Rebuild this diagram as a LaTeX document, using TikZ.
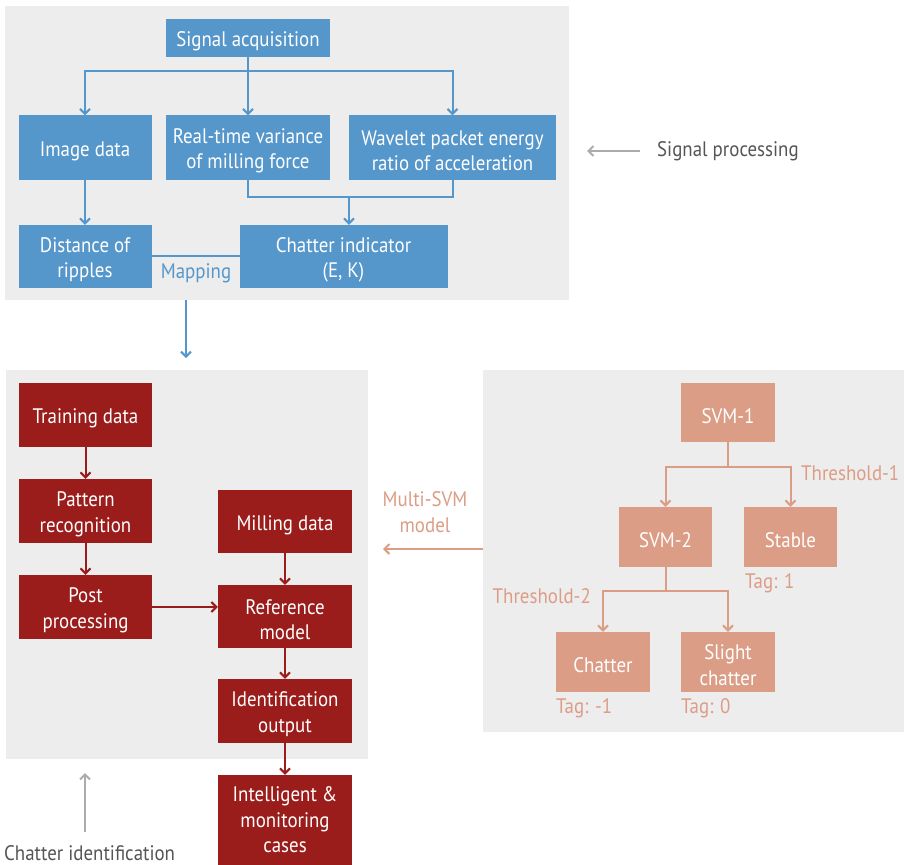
\documentclass[tikz,border=0pt]{standalone}
\usepackage{fontspec}
\setmainfont{PT Sans}[FakeStretch=0.9]
\usetikzlibrary{arrows.meta}
\definecolor{procblue}{HTML}{5596CB}
\definecolor{identred}{HTML}{9A1D1B}
\definecolor{svmsalmon}{HTML}{DC9D86}
\definecolor{panelgray}{HTML}{EDEDED}
\definecolor{notegray}{HTML}{ABABAB}
\definecolor{notetext}{HTML}{555555}
% invisible strut on the first line so box texts sit a little lower
\newcommand{\boxlift}{\rule{0pt}{21.5pt}}
\tikzset{
  every node/.style={font=\fontsize{21}{25.5}\selectfont, inner sep=0pt},
  box/.style={rectangle, align=center, text=white},
  bluebox/.style={box, fill=procblue},
  redbox/.style={box, fill=identred},
  svmbox/.style={box, fill=svmsalmon},
  tip/.style={-{Straight Barb[length=5pt,width=10pt,line width=2pt]}},
  bline/.style={draw=procblue, line width=2pt},
  rline/.style={draw=identred, line width=2pt},
  sline/.style={draw=svmsalmon, line width=2pt},
  gline/.style={draw=notegray, line width=2pt},
  panel/.style={fill=panelgray},
}
\begin{document}
\begin{tikzpicture}[x=1pt, y=-1pt]
\useasboundingbox (0,0) rectangle (904,864);
\fill[white] (0,0) rectangle (904,864);

% ---------- signal processing ----------
\fill[panel] (5,6) rectangle (569,300);
\node[bluebox, minimum width=164pt, minimum height=38pt] (sig) at (248,38) {\boxlift Signal acquisition};
\node[bluebox, minimum width=133pt, minimum height=64pt] (img) at (85,147.5) {\boxlift Image data};
\node[bluebox, minimum width=164pt, minimum height=64pt] (rt) at (248,147.5) {\boxlift Real-time variance\\of milling force};
\node[bluebox, minimum width=207pt, minimum height=64pt] (wav) at (452.5,147.5) {\boxlift Wavelet packet energy\\ratio of acceleration};
\node[bluebox, minimum width=133pt, minimum height=63pt] (dist) at (85,256.5) {\boxlift Distance of\\ripples};
\node[bluebox, minimum width=208pt, minimum height=63pt] (chi) at (343.5,256.5) {\boxlift Chatter indicator\\(E, K)};

\coordinate (j1) at (248,71);
\coordinate (j2) at (349,197);
\draw[bline] (sig.south) -- (j1);
\draw[bline, tip] (j1) -- (rt.north);
\draw[bline, tip] (j1) -| (img.north);
\draw[bline, tip] (j1) -| (wav.north);
\draw[bline] (rt.south) |- (j2) -| (wav.south);
\draw[bline, tip] (j2) -- (j2 |- chi.north);
\draw[bline, tip] (img.south) -- (dist.north);
\coordinate (m1) at (151.5,256);
\coordinate (m2) at (239.5,256);
\draw[bline] (m1) -- (m2);
\node[text=procblue] (map) at (196,273) {Mapping};

\coordinate (d1) at (186,300);
\coordinate (d2) at (186,358);
\draw[bline, tip] (d1) -- (d2);

\coordinate (sp1) at (640,151);
\coordinate (sp2) at (587,151);
\draw[gline, tip] (sp1) -- (sp2);
\node[anchor=west, text=notetext] (spl) at (657,151) {Signal processing};

% ---------- chatter identification ----------
\fill[panel] (6,370) rectangle (368,759);
\node[redbox, minimum width=133pt, minimum height=64pt] (train) at (85.5,415) {\boxlift Training data};
\node[redbox, minimum width=133pt, minimum height=64pt] (pat) at (85.5,511) {\boxlift Pattern\\recognition};
\node[redbox, minimum width=133pt, minimum height=64pt] (post) at (85.5,607) {\boxlift Post\\processing};
\node[redbox, minimum width=134pt, minimum height=63pt] (mill) at (285,521.5) {\boxlift Milling data};
\node[redbox, minimum width=134pt, minimum height=63pt] (ref) at (285,616.5) {\boxlift Reference\\model};
\node[redbox, minimum width=134pt, minimum height=64pt] (ido) at (285,711) {\boxlift Identification\\output};
\node[redbox, minimum width=134pt, minimum height=90pt] (intel) at (285,820) {Intelligent \&\\monitoring\\cases};

\draw[rline, tip] (train.south) -- (pat.north);
\draw[rline, tip] (pat.south) -- (post.north);
\draw[rline, tip] (post.east) -- (post.east -| ref.west);
\draw[rline, tip] (mill.south) -- (ref.north);
\draw[rline, tip] (ref.south) -- (ido.north);
\draw[rline, tip] (ido.south) -- (intel.north);

\coordinate (ci1) at (85,832);
\coordinate (ci2) at (85,773);
\draw[gline, tip] (ci1) -- (ci2);
\node[anchor=base west, text=notetext, text depth=0pt] (cil) at (4,860) {Chatter identification};

% ---------- multi-SVM model ----------
\fill[panel] (483,370) rectangle (904,732);
\node[svmbox, minimum width=94pt, minimum height=59pt] (svm1) at (728,412.5) {\boxlift SVM-1};
\node[svmbox, minimum width=93pt, minimum height=60pt] (svm2) at (665.5,537) {\boxlift SVM-2};
\node[svmbox, minimum width=93pt, minimum height=60pt] (stab) at (790.5,537) {\boxlift Stable};
\node[svmbox, minimum width=94pt, minimum height=60pt] (chat) at (603,662) {\boxlift Chatter};
\node[svmbox, minimum width=94pt, minimum height=60pt] (slight) at (728,662) {\boxlift Slight\\chatter};

\coordinate (j3) at (728,467);
\coordinate (j4) at (665.5,591);
\draw[sline] (svm1.south) -- (j3);
\draw[sline, tip] (j3) -| (svm2.north);
\draw[sline, tip] (j3) -| (stab.north);
\draw[sline] (svm2.south) -- (j4);
\draw[sline, tip] (j4) -| (chat.north);
\draw[sline, tip] (j4) -| (slight.north);

\node[anchor=west, text=svmsalmon] (th1) at (801,473) {Threshold-1};
\node[anchor=east, text=svmsalmon] (th2) at (591,596) {Threshold-2};
\node[anchor=west, text=svmsalmon] (tag1) at (745,583) {Tag: 1};
\node[anchor=west, text=svmsalmon] (tagm) at (556,708) {Tag: -1};
\node[anchor=west, text=svmsalmon] (tag0) at (681,708) {Tag: 0};

\coordinate (ms1) at (483,549);
\coordinate (ms2) at (383,549);
\draw[sline, tip] (ms1) -- (ms2);
\node[align=center, text=svmsalmon] (msl) at (425,512) {Multi-SVM\\model};
\end{tikzpicture}
\end{document}
